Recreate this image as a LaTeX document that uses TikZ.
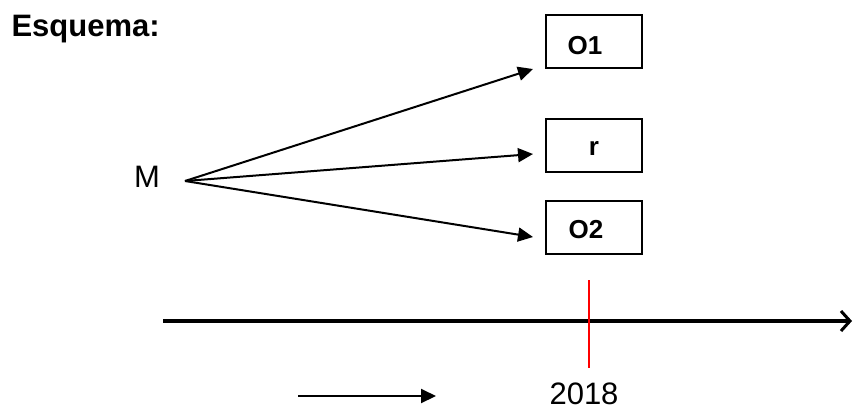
\documentclass[tikz,border=0pt]{standalone}
\usepackage{fontspec}
\setmainfont{Liberation Sans}
\usetikzlibrary{arrows.meta}
\begin{document}
\begin{tikzpicture}[x=1pt,y=-1pt,
  obox/.style={draw,line width=2pt,minimum width=96pt,minimum height=53pt,inner sep=0pt},
  olabel/.style={font=\fontsize{26}{30}\selectfont\bfseries},
  rlabel/.style={font=\fontsize{31}{36}\selectfont,inner sep=0pt},
  farrow/.style={line width=2pt,-{Triangle[length=15pt,width=14pt]}},
  taxis/.style={line width=3.6pt,-{Straight Barb[length=9pt,width=20pt,line width=3pt]}}]
\useasboundingbox (0,0) rectangle (853,410);
\node[font=\fontsize{31}{36}\selectfont\bfseries,anchor=west] (title) at (8,29) {Esquema:};
\node[obox] (o1) at (594,41.5) {};
\node[olabel] (o1t) at (585,46) {O1};
\node[obox] (r) at (594,145.5) {};
\node[olabel] (rt) at (594,148) {r};
\node[obox] (o2) at (594,227) {};
\node[olabel] (o2t) at (586,230) {O2};
\node[rlabel] (m) at (147,177) {M};
\coordinate (mv) at (185,181);
\coordinate (t1) at (533,69);
\coordinate (t2) at (533,154);
\coordinate (t3) at (533,237);
\draw[farrow] (mv) -- (t1);
\draw[farrow] (mv) -- (t2);
\draw[farrow] (mv) -- (t3);
\coordinate (ax0) at (163,321);
\coordinate (ax1) at (852,321);
\draw[taxis] (ax0) -- (ax1);
\coordinate (red0) at (589,280);
\coordinate (red1) at (589,368);
\draw[red,line width=2.5pt] (red0) -- (red1);
\coordinate (s0) at (298,396);
\coordinate (s1) at (436,396);
\draw[farrow] (s0) -- (s1);
\node[rlabel] (yr) at (584,394) {2018};
\end{tikzpicture}
\end{document}
